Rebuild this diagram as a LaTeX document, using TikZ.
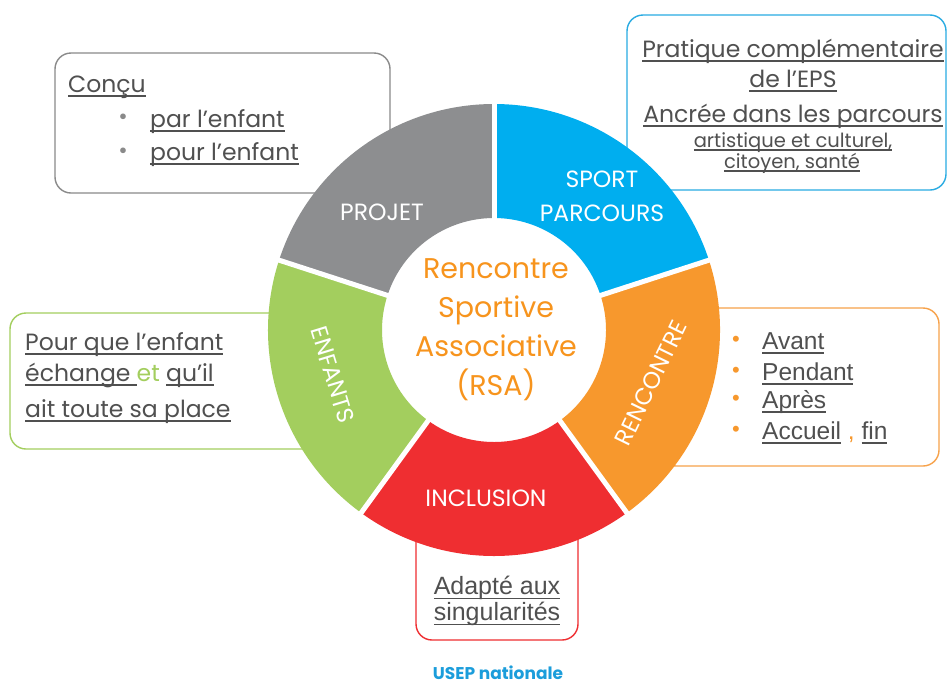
\documentclass[tikz,border=0pt]{standalone}
\usepackage{fontspec}
\setmainfont{Poppins}
\newfontfamily\arialfont{Liberation Sans}
\newsavebox{\ulbox}
\newcommand{\myul}[1]{\sbox{\ulbox}{#1}\rlap{\rule[-0.2em]{\wd\ulbox}{1.5pt}}\usebox{\ulbox}}
\definecolor{segGrey}{HTML}{8D8E90}
\definecolor{segBlue}{HTML}{00AEEF}
\definecolor{segOrange}{HTML}{F7982D}
\definecolor{segRed}{HTML}{EF2E31}
\definecolor{segGreen}{HTML}{A3CE5E}
\definecolor{txtGrey}{HTML}{505050}
\definecolor{midOrange}{HTML}{F7941D}
\definecolor{usepBlue}{HTML}{1B9DDB}
\definecolor{boxGrey}{HTML}{8A8A8A}
\definecolor{boxBlue}{HTML}{29ABE2}
\definecolor{boxOrange}{HTML}{F7A24A}
\tikzset{
  boxline/.style={line width=1.4pt, rounded corners=16pt},
  seglabel/.style={text=white, inner sep=0pt, font=\fontsize{23.5}{34}\selectfont},
  boxtext/.style={text=txtGrey, anchor=base west, inner sep=0pt, font=\fontsize{23.5}{26}\selectfont},
  boxtextc/.style={text=txtGrey, anchor=base, inner sep=0pt, font=\fontsize{23.5}{26}\selectfont},
  smalltextc/.style={text=txtGrey, anchor=base, inner sep=0pt, font=\fontsize{19.5}{22}\selectfont},
  arialtext/.style={text=txtGrey, anchor=base west, inner sep=0pt, font=\arialfont\fontsize{24.5}{28}\selectfont},
  arialtextc/.style={text=txtGrey, anchor=base, inner sep=0pt, font=\arialfont\fontsize{25}{28}\selectfont},
}
\begin{document}
\begin{tikzpicture}[x=1pt,y=1pt]
\fill[white] (0,0) rectangle (949,-686);
\useasboundingbox (0,0) rectangle (949,-686);
% boxes behind the wheel
\draw[boxline, boxGrey] (55,-53) rectangle (390,-193);
\draw[boxline, boxBlue] (627,-15) rectangle (946,-190);
\draw[boxline, segGreen] (10,-313) rectangle (330,-449);
\draw[boxline, boxOrange] (660,-308) rectangle (939,-466);
\draw[boxline, segRed] (416,-470) rectangle (578,-640);
% wheel
\begin{scope}[shift={(494,-330)}]
  \def\Rin{112}\def\Rout{226}
  \fill[segBlue] (18:\Rin) arc[start angle=18, end angle=90, radius=\Rin] -- (90:\Rout) arc[start angle=90, end angle=18, radius=\Rout] -- cycle;
  \fill[segGrey] (90:\Rin) arc[start angle=90, end angle=162, radius=\Rin] -- (162:\Rout) arc[start angle=162, end angle=90, radius=\Rout] -- cycle;
  \fill[segGreen] (162:\Rin) arc[start angle=162, end angle=234, radius=\Rin] -- (234:\Rout) arc[start angle=234, end angle=162, radius=\Rout] -- cycle;
  \fill[segRed] (234:\Rin) arc[start angle=234, end angle=306, radius=\Rin] -- (306:\Rout) arc[start angle=306, end angle=234, radius=\Rout] -- cycle;
  \fill[segOrange] (306:\Rin) arc[start angle=306, end angle=378, radius=\Rin] -- (378:\Rout) arc[start angle=378, end angle=306, radius=\Rout] -- cycle;
  \foreach \a in {18,90,162,234,306}
    \draw[white, line width=5pt] (\a:108) -- (\a:230);
\end{scope}
% segment labels
\node[seglabel] (projet) at (382,-212) {PROJET};
\node[seglabel, align=center] (sport) at (602,-196) {SPORT\\PARCOURS};
\node[seglabel, rotate=64] (renc) at (651,-383) {RENCONTRE};
\node[seglabel, rotate=-73] (enf) at (333,-375) {ENFANTS};
\node[seglabel] (incl) at (486,-498) {INCLUSION};
% centre
\node[text=midOrange, align=center, inner sep=0pt, font=\fontsize{28.5}{39}\selectfont] (rsa) at (496,-330) {Rencontre\\Sportive\\Associative\\(RSA)};
% grey box
\node[boxtext] (concu) at (68,-92) {\myul{Conçu}};
\node[text=boxGrey, inner sep=0pt, font=\fontsize{23}{24}\selectfont] (b1) at (123,-119) {•};
\node[boxtext] (par) at (150,-127) {\myul{par l’enfant}};
\node[text=boxGrey, inner sep=0pt, font=\fontsize{23}{24}\selectfont] (b2) at (123,-153) {•};
\node[boxtext] (pour) at (150,-160) {\myul{pour l’enfant}};
% blue box
\node[boxtextc] (prat) at (793,-57) {\myul{Pratique complémentaire}};
\node[boxtextc] (eps) at (793,-87) {\myul{de l’EPS}};
\node[boxtextc] (ancr) at (793,-122) {\myul{Ancrée dans les parcours}};
\node[smalltextc] (arti) at (793,-147) {\myul{artistique et culturel,}};
\node[smalltextc] (cito) at (792,-168) {\myul{citoyen, santé}};
% green box
\node[boxtext] (pq) at (25,-350) {\myul{Pour que l’enfant}};
\node[boxtext] (ech) at (25,-381) {\myul{échange }{\color{segGreen}et} \myul{qu’il}};
\node[boxtext] (ait) at (25,-417) {\myul{ait toute sa place}};
% orange box
\foreach \n/\y in {o1/341, o2/372, o3/400, o4/431}
  \node[text=segOrange, inner sep=0pt, font=\arialfont\fontsize{22}{24}\selectfont] (\n) at (736,-\y) {•};
\node[arialtext] (av) at (762,-349) {\myul{Avant}};
\node[arialtext] (pe) at (762,-380) {\myul{Pendant}};
\node[arialtext] (ap) at (762,-408) {\myul{Après}};
\node[arialtext] (ac) at (762,-439) {\myul{Accueil} {\color{segOrange},} \myul{fin}};
% red box
\node[arialtextc] (adap) at (497,-594) {\myul{Adapté aux}};
\node[arialtextc] (sing) at (497,-620) {\myul{singularités}};
% footer
\node[text=usepBlue, inner sep=0pt, font=\bfseries\fontsize{17}{19}\selectfont] (usep) at (498,-673) {USEP nationale};
\end{tikzpicture}
\end{document}
